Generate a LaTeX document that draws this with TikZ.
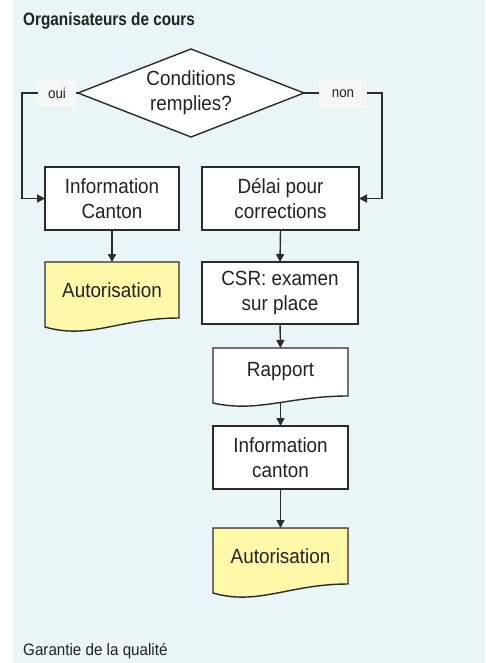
\documentclass[tikz,border=0pt]{standalone}
\usepackage{fontspec}
\setmainfont{Liberation Sans}
\newfontfamily\condfont[FakeStretch=0.92]{Liberation Sans}
\newfontfamily\headfont[FakeStretch=0.85]{Liberation Sans}
\usetikzlibrary{shapes.geometric,arrows.meta,calc,backgrounds}

\definecolor{panelbg}{HTML}{E9F5F6}
\definecolor{docyellow}{HTML}{FFF8A8}
\definecolor{lblbg}{HTML}{F5F6F6}
\definecolor{linec}{HTML}{2B2B2B}
\definecolor{textc}{HTML}{222222}

\tikzset{
  boxtext/.style={font=\condfont\fontsize{20.5}{25}\selectfont, text=textc, align=center},
  stepbox/.style={boxtext, draw=linec, line width=1.4pt, fill=white,
    inner sep=0pt, outer sep=0pt},
  docnode/.style={boxtext, inner sep=0pt, outer sep=0pt},
  docline/.style={draw=linec, line width=1.4pt},
  decision/.style={boxtext, diamond, draw=linec, line width=1.4pt, fill=white,
    aspect=2.57, minimum width=226pt, minimum height=88pt,
    inner sep=0pt, outer sep=0pt},
  lbl/.style={fill=lblbg, minimum height=28pt, inner sep=0pt,
    font=\condfont\fontsize{14.5}{16}\selectfont, text=textc},
  link/.style={draw=linec, line width=1.4pt},
  arr/.style={link, -{Triangle[length=8pt,width=8pt]}},
}

% document symbol: rectangle with a wavy lower edge
% #1 node, #2 fill, #3 drop of the lower-left corner, #4 depth of the wave
\newcommand\docoutline[4]{%
  \filldraw[docline, fill=#2] (#1.north west) -- (#1.north east) -- (#1.south east)
    .. controls ($(#1.south east)+(-59,0)$) and ($(#1.south west)+(45,#4)$)
    .. ($(#1.south west)+(0,#3)$) -- cycle;}

\begin{document}
\begin{tikzpicture}[x=1pt, y=-1pt]
  \useasboundingbox (0,0) rectangle (485,663);

  % headings
  \node[anchor=base west, inner sep=0pt, text=textc,
        font=\headfont\bfseries\fontsize{18}{20}\selectfont]
        (title) at (23,26) {Organisateurs de cours};
  \node[anchor=base west, inner sep=0pt, text=textc,
        font=\condfont\fontsize{16.5}{18}\selectfont]
        (footer) at (23,655) {Garantie de la qualité};

  % decision
  \node[decision] (cond) at (191,93) {Conditions\\remplies?};

  % left branch
  \node[stepbox, minimum width=134pt, minimum height=63pt] (info1) at (112,198.5) {Information\\Canton};
  \node[docnode, minimum width=134pt, minimum height=56pt] (auto1) at (112,290) {Autorisation};

  % right branch
  \node[stepbox, minimum width=157pt, minimum height=63pt] (delai) at (280.5,198.5) {Délai pour\\corrections};
  \node[stepbox, minimum width=156pt, minimum height=62pt] (csr) at (280,293) {CSR: examen\\sur place};
  \node[docnode, minimum width=135pt, minimum height=48pt] (rapport) at (280.5,372) {Rapport};
  \node[stepbox, minimum width=135pt, minimum height=63pt] (info2) at (280.5,457.5) {Information\\canton};
  \node[docnode, minimum width=135pt, minimum height=56pt] (auto2) at (280.5,556) {Autorisation};

  % panel and document symbols underneath the text
  \begin{scope}[on background layer]
    \fill[panelbg] (13,0) rectangle (485,663);
    \docoutline{auto1}{docyellow}{9}{22}
    \docoutline{rapport}{white}{7}{17}
    \docoutline{auto2}{docyellow}{9}{22}
  \end{scope}

  % branches out of the decision
  \coordinate (ouiTurn) at (22,93);
  \coordinate (nonTurn) at (382,93);
  \draw[arr] (cond.west) -- (ouiTurn) |- (info1.west);
  \draw[arr] (cond.east) -- (nonTurn) |- (delai.east);
  \node[lbl, minimum width=38pt] (oui) at (57,93) {oui};
  \node[lbl, minimum width=48pt] (non) at (343,94) {non};

  % flow
  \coordinate (rapfoot) at ($(rapport.south)+(0,6)$);
  \draw[arr] (info1.south) -- (auto1.north);
  \draw[arr] (delai.south) -- (csr.north);
  \draw[arr] (csr.south) -- (rapport.north);
  \draw[arr] (rapfoot) -- (info2.north);
  \draw[arr] (info2.south) -- (auto2.north);
\end{tikzpicture}
\end{document}
